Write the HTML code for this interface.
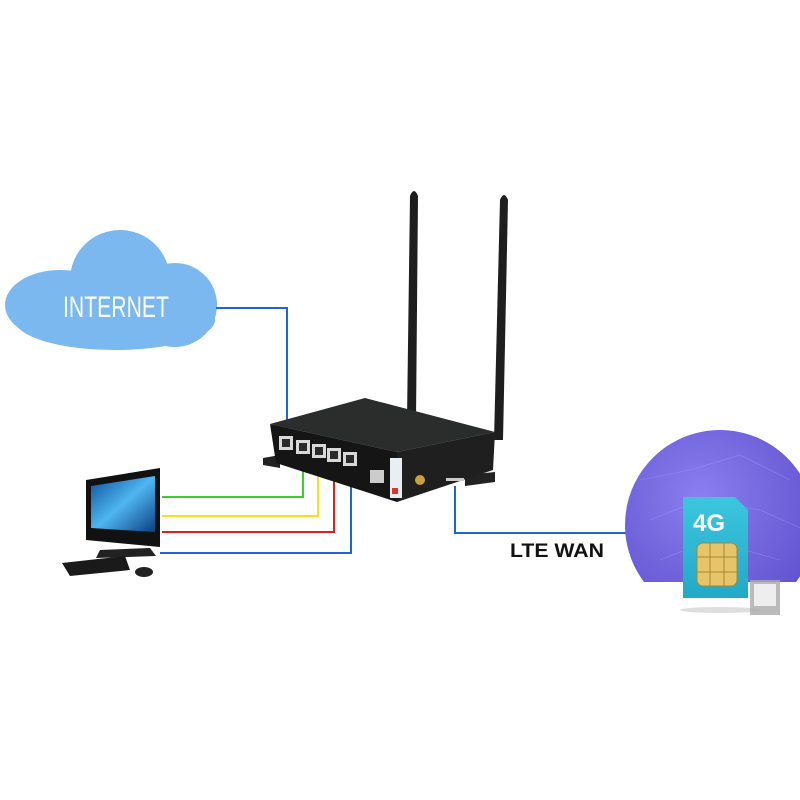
<!DOCTYPE html>
<html><head><style>html,body{margin:0;padding:0;background:#fff}svg{display:block}</style></head>
<body>
<svg width="800" height="800" viewBox="0 0 800 800" xmlns="http://www.w3.org/2000/svg">
<defs>
<radialGradient id="glb" cx="0.4" cy="0.35" r="0.8"><stop offset="0" stop-color="#8a7ef0"/><stop offset="1" stop-color="#5a4cc8"/></radialGradient>
<linearGradient id="scr" x1="0" y1="0" x2="1" y2="1"><stop offset="0" stop-color="#0c4f9a"/><stop offset="0.5" stop-color="#4fb6f0"/><stop offset="1" stop-color="#0a3f80"/></linearGradient>
<linearGradient id="sim" x1="0" y1="0" x2="0" y2="1"><stop offset="0" stop-color="#3cc6de"/><stop offset="1" stop-color="#23a9c8"/></linearGradient>
<clipPath id="gc"><rect x="600" y="400" width="200" height="182"/></clipPath>
</defs>
<g fill="#7ab8ef">
<ellipse cx="60" cy="305" rx="55" ry="35"/>
<circle cx="120" cy="280" r="50"/>
<circle cx="175" cy="305" r="42"/>
<ellipse cx="115" cy="320" rx="100" ry="30"/>
</g>
<text x="116" y="317" font-family="Liberation Sans Narrow, Liberation Sans, sans-serif" font-size="30" fill="#fff" text-anchor="middle" textLength="106" lengthAdjust="spacingAndGlyphs">INTERNET</text>
<g fill="none" stroke-width="2">
<polyline points="216,308 287,308 287,447" stroke="#1e63d8"/>
<polyline points="162,497 303,497 303,460" stroke="#3ccf2c"/>
<polyline points="162,516 318,516 318,463" stroke="#f2e21c"/>
<polyline points="162,532 334,532 334,466" stroke="#e02020"/>
<polyline points="160,553 351,553 351,472" stroke="#1e63d8"/>
<polyline points="455,486 455,533 630,533" stroke="#1e63d8"/>
</g>
<text x="510" y="557" font-family="Liberation Sans, sans-serif" font-weight="bold" font-size="19" fill="#111" textLength="94" lengthAdjust="spacingAndGlyphs">LTE WAN</text>
<path d="M410,196 Q414,186 418,196 L416,420 L407,420 Z" fill="#1e1e1e"/>
<path d="M500,200 Q504,190 508,200 L503,440 L494,440 Z" fill="#1e1e1e"/>
<polygon points="263,458 280,455 280,468 263,465" fill="#222"/>
<polygon points="465,475 495,472 495,482 465,486" fill="#222"/>
<polygon points="270,424 365,398 495,432 397,452" fill="#2b2d2d"/>
<polygon points="397,452 495,432 493,470 397,502" fill="#1f1f1f"/>
<polygon points="270,424 397,452 397,502 276,463" fill="#151515"/>
<g fill="#d8d8d8">
<rect x="279" y="436" width="14" height="14"/>
<rect x="296" y="440" width="14" height="14"/>
<rect x="312" y="444" width="14" height="14"/>
<rect x="327" y="448" width="14" height="14"/>
<rect x="343" y="452" width="14" height="14"/>
</g>
<g fill="#2a2a2a">
<rect x="282" y="439" width="8" height="8"/>
<rect x="299" y="443" width="8" height="8"/>
<rect x="315" y="447" width="8" height="8"/>
<rect x="330" y="451" width="8" height="8"/>
<rect x="346" y="455" width="8" height="8"/>
</g>
<rect x="370" y="470" width="14" height="13" fill="#ccc"/>
<rect x="390" y="458" width="12" height="40" fill="#e8eef4"/>
<rect x="392" y="488" width="6" height="6" fill="#d33"/>
<circle cx="420" cy="480" r="5" fill="#c9a040"/>
<rect x="446" y="478" width="18" height="3" fill="#ccc"/>
<circle cx="720" cy="525" r="95" fill="url(#glb)" clip-path="url(#gc)"/>
<g stroke="#b0a6ff" stroke-width="0.6" opacity="0.5" fill="none" clip-path="url(#gc)">
<path d="M640,480 L690,470 L740,455 L790,480 M650,520 L700,500 L760,510 L805,530 M660,560 L710,540 L780,560"/>
</g>
<ellipse cx="720" cy="610" rx="40" ry="3" fill="#bbb" opacity="0.5"/>
<path d="M683,497 L735,497 L748,510 L748,598 L683,598 Z" fill="url(#sim)"/>
<text x="693" y="531" font-family="Liberation Sans, sans-serif" font-weight="bold" font-size="24" fill="#fff">4G</text>
<rect x="697" y="543" width="40" height="43" rx="6" fill="#e6c56a" stroke="#a88630" stroke-width="1"/>
<g stroke="#a88630" stroke-width="1" fill="none"><path d="M710,543 V586 M724,543 V586 M697,557 H737 M697,572 H737"/></g>
<rect x="750" y="580" width="30" height="35" fill="#aaa" opacity="0.8"/>
<rect x="754" y="584" width="22" height="22" fill="#eee"/>
<polygon points="86,480 160,468 160,547 86,540" fill="#111"/>
<polygon points="91,486 155,476 155,532 91,528" fill="url(#scr)"/>
<polygon points="100,550 150,548 156,556 96,558" fill="#222"/>
<polygon points="62,563 125,556 130,570 70,576" fill="#1a1a1a"/>
<ellipse cx="144" cy="572" rx="9" ry="5" fill="#222"/>
</svg>
</body></html>
